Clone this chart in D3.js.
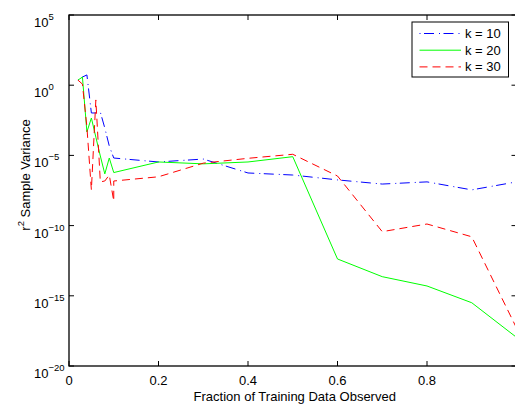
<!DOCTYPE html>
<html>
<head>
<meta charset="utf-8">
<script src="https://cdn.jsdelivr.net/npm/d3@7"></script>
<style>
  body { margin: 0; background: #fff; }
  svg { display: block; font-family: "Liberation Sans", Arial, sans-serif; }
  text { fill: #000; }
</style>
</head>
<body>
<script>
// fraction of training data observed (0.1 appears twice: end of fine sweep, start of coarse one)
const fractions = [0.02, 0.03, 0.04, 0.05, 0.06, 0.07, 0.08, 0.09, 0.1,
  0.1, 0.2, 0.3, 0.4, 0.5, 0.6, 0.7, 0.8, 0.9, 1.0];

const k10 = [2.3, 3.8, 5.4, 1.05e-2, 1.05e-2, 1.2e-2, 8.9e-4, 4.7e-5, 6.5e-6,
  6.5e-6, 3.4e-6, 5.5e-6, 5.6e-7, 4.0e-7, 1.8e-7, 9.1e-8, 1.3e-7, 3.5e-8, 1.3e-7];

const k20 = [2.3, 3.8, 4.7e-4, 4.6e-3, 2.0e-4, 9.1e-6, 4.8e-7, 6.5e-6, 6.0e-7,
  6.0e-7, 3.4e-6, 2.5e-6, 3.4e-6, 8.1e-6, 4.2e-13, 2.3e-14, 5.0e-15, 3.2e-16, 1.1e-18];

const k30 = [2.3, 1.2, 1.05e-3, 3.5e-8, 8.9e-2, 1.3e-7, 1.5e-7, 4.0e-7, 5.6e-9,
  1.5e-7, 3.0e-7, 2.8e-6, 6.2e-6, 1.2e-5, 3.4e-7, 3.7e-11, 1.3e-10, 1.6e-11, 5.1e-18];

const seriesNames = ['k = 10', 'k = 20', 'k = 30'];
const xTicks = [0, 0.2, 0.4, 0.6, 0.8, 1];
const xTickLabels = ['0', '0.2', '0.4', '0.6', '0.8'];
const yExponents = [5, 0, -5, -10, -15, -20];

const series = [
  { name: seriesNames[0], values: k10, color: '#0000ff', dash: '1,3.5,10,5' },
  { name: seriesNames[1], values: k20, color: '#00ff00', dash: null },
  { name: seriesNames[2], values: k30, color: '#ff0000', dash: '8,5' },
];

const margin = { top: 15, left: 69 };
const width = 447.5;
const height = 351;

const x = d3.scaleLinear()
  .domain([0, 1])
  .range([0, width]);

const y = d3.scaleLog()
  .domain([1e-20, 1e5])
  .range([height, 0]);

const svg = d3.select('body').append('svg')
  .attr('width', 515)
  .attr('height', 410);

const g = svg.append('g')
  .attr('transform', `translate(${margin.left}, ${margin.top})`);

g.append('clipPath')
  .attr('id', 'plot')
  .append('rect')
  .attr('width', width)
  .attr('height', height);

const line = d3.line()
  .x((d, i) => x(fractions[i]))
  .y(d => y(d));

g.append('g')
  .attr('clip-path', 'url(#plot)')
  .selectAll('path')
  .data(series)
  .enter().append('path')
  .attr('d', d => line(d.values))
  .attr('fill', 'none')
  .attr('stroke', d => d.color)
  .attr('stroke-width', 1)
  .attr('stroke-dasharray', d => d.dash);

// box with inward ticks, matlab style
const tickLen = 5;

g.selectAll('.xtick')
  .data(xTicks)
  .enter().append('path')
  .attr('class', 'xtick')
  .attr('d', d => `M${x(d)},${height}v${-tickLen}M${x(d)},0v${tickLen}`)
  .attr('stroke', '#000');

g.selectAll('.ytick')
  .data(yExponents)
  .enter().append('path')
  .attr('class', 'ytick')
  .attr('d', d => `M0,${y(10 ** d)}h${tickLen}M${width},${y(10 ** d)}h${-tickLen}`)
  .attr('stroke', '#000');

g.append('rect')
  .attr('width', width)
  .attr('height', height)
  .attr('fill', 'none')
  .attr('stroke', '#000')
  .attr('stroke-width', 1.3);

g.selectAll('.xlabel')
  .data(xTickLabels)
  .enter().append('text')
  .attr('class', 'xlabel')
  .attr('x', d => x(+d))
  .attr('y', height + 19)
  .attr('text-anchor', 'middle')
  .style('font-size', '13px')
  .text(d => d);

const ylab = g.selectAll('.ylabel')
  .data(yExponents)
  .enter().append('text')
  .attr('class', 'ylabel')
  .attr('x', -35)
  .attr('y', d => y(10 ** d) + 12)
  .style('font-size', '13px');

ylab.append('tspan').text('10');
ylab.append('tspan')
  .attr('dy', -7)
  .style('font-size', '9.5px')
  .text(d => (d < 0 ? '\u2212' + (-d) : d));

g.append('text')
  .attr('x', width / 2 + 2)
  .attr('y', height + 35)
  .attr('text-anchor', 'middle')
  .style('font-size', '13px')
  .text('Fraction of Training Data Observed');

const ytitle = svg.append('text')
  .attr('transform', 'translate(30, 175) rotate(-90)')
  .attr('text-anchor', 'middle')
  .style('font-size', '13px');
ytitle.append('tspan').text('r');
ytitle.append('tspan')
  .attr('dy', -6)
  .style('font-size', '9.5px')
  .text('2');
ytitle.append('tspan')
  .attr('dy', 6)
  .text(' Sample Variance');

// legend
const legend = svg.append('g')
  .attr('transform', 'translate(412, 22)');

legend.append('rect')
  .attr('width', 96.5)
  .attr('height', 55)
  .attr('fill', '#fff')
  .attr('stroke', '#000');

const item = legend.selectAll('.item')
  .data(series)
  .enter().append('g')
  .attr('class', 'item')
  .attr('transform', (d, i) => `translate(0, ${11.5 + i * 16.7})`);

item.append('line')
  .attr('x1', 7.5)
  .attr('x2', 49)
  .attr('stroke', d => d.color)
  .attr('stroke-dasharray', d => d.dash);

item.append('text')
  .attr('x', 53)
  .attr('y', 4.5)
  .style('font-size', '13px')
  .text(d => d.name);
</script>
</body>
</html>
